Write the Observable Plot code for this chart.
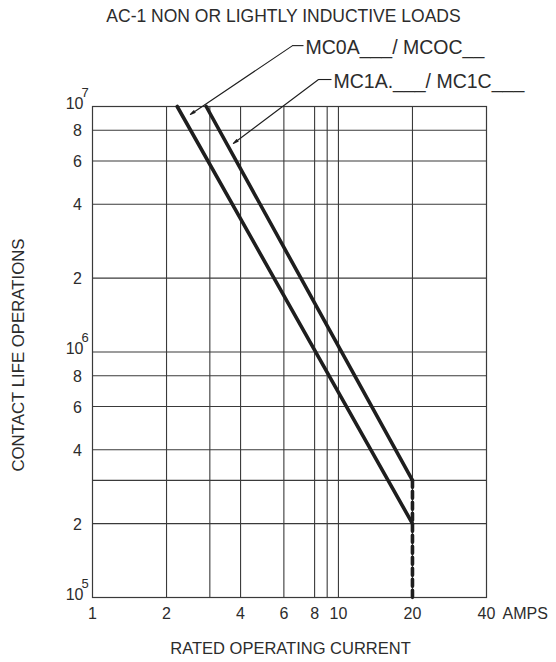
<!DOCTYPE html>
<html>
<head>
<meta charset="utf-8">
<script src="https://cdn.jsdelivr.net/npm/d3@7"></script>
<script src="https://cdn.jsdelivr.net/npm/@observablehq/plot@0.6"></script>
<style>
  html, body { margin: 0; padding: 0; background: #ffffff; }
</style>
</head>
<body>
<div id="chart"></div>
<script>
// ---- Text ----
const titleText = "AC-1 NON OR LIGHTLY INDUCTIVE LOADS";
const xAxisTitle = "RATED OPERATING CURRENT";
const yAxisTitle = "CONTACT LIFE OPERATIONS";
const unitLabel = "AMPS";

// ---- Axes / ticks ----
const xDomain = [1, 40];
const yDomain = [1e5, 1e7];
const xTickValues = [1, 2, 4, 6, 8, 10, 20, 40];
const xTickLabels = ["1", "2", "4", "6", "8", "10", "20", "40"];
const xGridValues = [2, 3, 4, 6, 8, 9, 10, 20];
const yGridValues = [2e5, 3e5, 4e5, 6e5, 8e5, 1e6, 2e6, 4e6, 6e6, 8e6];
const yTickValues = [2e5, 4e5, 6e5, 8e5, 2e6, 4e6, 6e6, 8e6];
const yTickLabels = ["2", "4", "6", "8", "2", "4", "6", "8"];
const yDecadeValues = [1e5, 1e6, 1e7];
const yDecadeExponents = ["5", "6", "7"];

// ---- Series: MC0A / MC0C ----
const mc0Current = [2.21, 20];
const mc0Life = [1e7, 2e5];
// ---- Series: MC1A / MC1C ----
const mc1Current = [2.9, 20];
const mc1Life = [1e7, 3e5];
// ---- Extension below 20 A (dashed) ----
const extCurrent = [20, 20];
const extLife = [3e5, 1e5];

// ---- Leader annotations (data units) ----
const seriesLabels = ["MC0A___/ MCOC__", "MC1A.___/ MC1C___"];
const leaderTipCurrent = [2.5, 3.74];
const leaderTipLife = [9.28e6, 7.07e6];
const leaderElbowCurrent = [6.51, 8.3];
const leaderElbowLife = [1.77e7, 1.288e7];
const leaderEndCurrent = [7.21, 9.37];

const FONT = "'Liberation Sans', Arial, sans-serif";
const INK = "#1e1e1e";
const TXT = "#2c2c2c";
const GRID = "#3a3a3a";

const toPts = (xs, ys) => xs.map((x, i) => ({x, y: ys[i]}));
const leaders = seriesLabels.map((label, i) => ({
  label,
  tx: leaderTipCurrent[i], ty: leaderTipLife[i],
  ex: leaderElbowCurrent[i], ey: leaderElbowLife[i],
  sx: leaderEndCurrent[i]
}));

const chart = Plot.plot({
  width: 556,
  height: 662,
  marginLeft: 92,
  marginRight: 70,
  marginTop: 106,
  marginBottom: 65,
  style: {fontFamily: FONT, background: "#ffffff", color: INK},
  x: {type: "log", domain: xDomain, axis: null},
  y: {type: "log", domain: yDomain, axis: null},
  marks: [
    // grid
    Plot.ruleX(xGridValues, {x: d => d, stroke: GRID, strokeWidth: 1.1}),
    Plot.ruleY(yGridValues, {y: d => d, stroke: GRID, strokeWidth: 1.1}),
    Plot.frame({stroke: GRID, strokeWidth: 1.2}),

    // curves
    Plot.line(toPts(mc0Current, mc0Life), {x: "x", y: "y", stroke: INK, strokeWidth: 3.6}),
    Plot.line(toPts(mc1Current, mc1Life), {x: "x", y: "y", stroke: INK, strokeWidth: 3.6}),
    Plot.line(toPts(extCurrent, extLife), {x: "x", y: "y", stroke: INK, strokeWidth: 3.6, strokeDasharray: "7,4"}),

    // leaders
    Plot.arrow(leaders, {x1: "ex", y1: "ey", x2: "tx", y2: "ty", stroke: INK, strokeWidth: 1.1, headLength: 7, headAngle: 25}),
    Plot.link(leaders, {x1: "ex", y1: "ey", x2: "sx", y2: "ey", stroke: INK, strokeWidth: 1.1}),
    Plot.text(leaders, {x: "sx", y: "ey", text: "label", textAnchor: "start", lineAnchor: "middle", dx: 2, dy: 2, fontSize: 19.5, fill: TXT}),

    // x tick labels
    Plot.text(xTickValues, {x: d => d, text: (d, i) => xTickLabels[i], frameAnchor: "bottom", textAnchor: "middle", lineAnchor: "middle", dy: 16, fontSize: 16, fill: TXT}),
    Plot.text([xDomain[1]], {x: d => d, text: () => unitLabel, frameAnchor: "bottom", textAnchor: "start", lineAnchor: "middle", dx: 16, dy: 16, fontSize: 16, fill: TXT}),

    // y tick labels
    Plot.text(yTickValues, {y: d => d, text: (d, i) => yTickLabels[i], frameAnchor: "left", textAnchor: "middle", lineAnchor: "middle", dx: -15, dy: 1, fontSize: 16, fill: TXT}),
    Plot.text(yDecadeValues, {y: d => d, text: () => "10", frameAnchor: "left", textAnchor: "end", lineAnchor: "middle", dx: -9, dy: -3, fontSize: 16, fill: TXT}),
    Plot.text(yDecadeValues, {y: d => d, text: (d, i) => yDecadeExponents[i], frameAnchor: "left", textAnchor: "start", lineAnchor: "middle", dx: -11, dy: -14, fontSize: 13, fill: TXT}),

    // titles
    Plot.text([titleText], {text: d => d, frameAnchor: "top", textAnchor: "middle", lineAnchor: "middle", dx: -6, dy: -90, fontSize: 17.5, fill: TXT}),
    Plot.text([xAxisTitle], {text: d => d, frameAnchor: "bottom", textAnchor: "middle", lineAnchor: "middle", dx: 1, dy: 51, fontSize: 16.5, fill: TXT}),
    Plot.text([yAxisTitle], {text: d => d, frameAnchor: "left", textAnchor: "middle", lineAnchor: "middle", rotate: -90, dx: -74, dy: 3, fontSize: 16.8, fill: TXT})
  ]
});

document.getElementById("chart").append(chart);
</script>
</body>
</html>
